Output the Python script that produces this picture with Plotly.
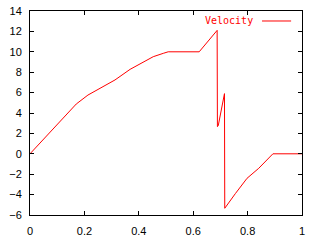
import plotly.graph_objects as go

x_vals = [0.0, 0.111, 0.170, 0.213, 0.3125, 0.368, 0.453, 0.49, 0.508, 0.622, 0.688, 0.689, 0.692, 0.715, 0.716, 0.755, 0.798, 0.841, 0.893, 1.0]
y_vals = [0.0, 3.2, 4.88, 5.76, 7.24, 8.28, 9.52, 9.85, 10.0, 10.0, 12.1, 2.66, 2.75, 5.9, -5.34, -3.9, -2.4, -1.42, 0.0, 0.0]
series_name = "Velocity"

fig = go.Figure()
fig.add_trace(go.Scatter(x=x_vals, y=y_vals, mode="lines", name=series_name,
                         line=dict(color="#ff0000", width=1), showlegend=False))

axis_common = dict(showgrid=False, zeroline=False, showline=True, linecolor="black", linewidth=1,
                   mirror="ticks", ticks="inside", ticklen=4, tickcolor="black", tickwidth=1,
                   automargin=False,
                   tickfont=dict(family="Liberation Sans", size=11, color="black"))
fig.update_xaxes(range=[0, 1], tickvals=[0, 0.2, 0.4, 0.6, 0.8, 1.0],
                 ticktext=["0", "0.2", "0.4", "0.6", "0.8", "1"], ticklabelstandoff=6, **axis_common)
fig.update_yaxes(range=[-6, 14], tickvals=list(range(-6, 15, 2)), ticklabelstandoff=5, **axis_common)

fig.add_annotation(xref="paper", yref="paper", x=0.827, y=0.951, xanchor="right", yanchor="middle",
                   text=series_name, showarrow=False,
                   font=dict(family="DejaVu Sans Mono", size=10, color="#ff0000"))
fig.add_shape(type="line", xref="paper", yref="paper", x0=0.853, x1=0.96, y0=0.951, y1=0.951,
              line=dict(color="#ff0000", width=1))

fig.update_layout(width=320, height=240, margin=dict(l=30, r=18, t=11, b=25, autoexpand=False),
                  paper_bgcolor="white", plot_bgcolor="white")
fig.write_html("out.html")
